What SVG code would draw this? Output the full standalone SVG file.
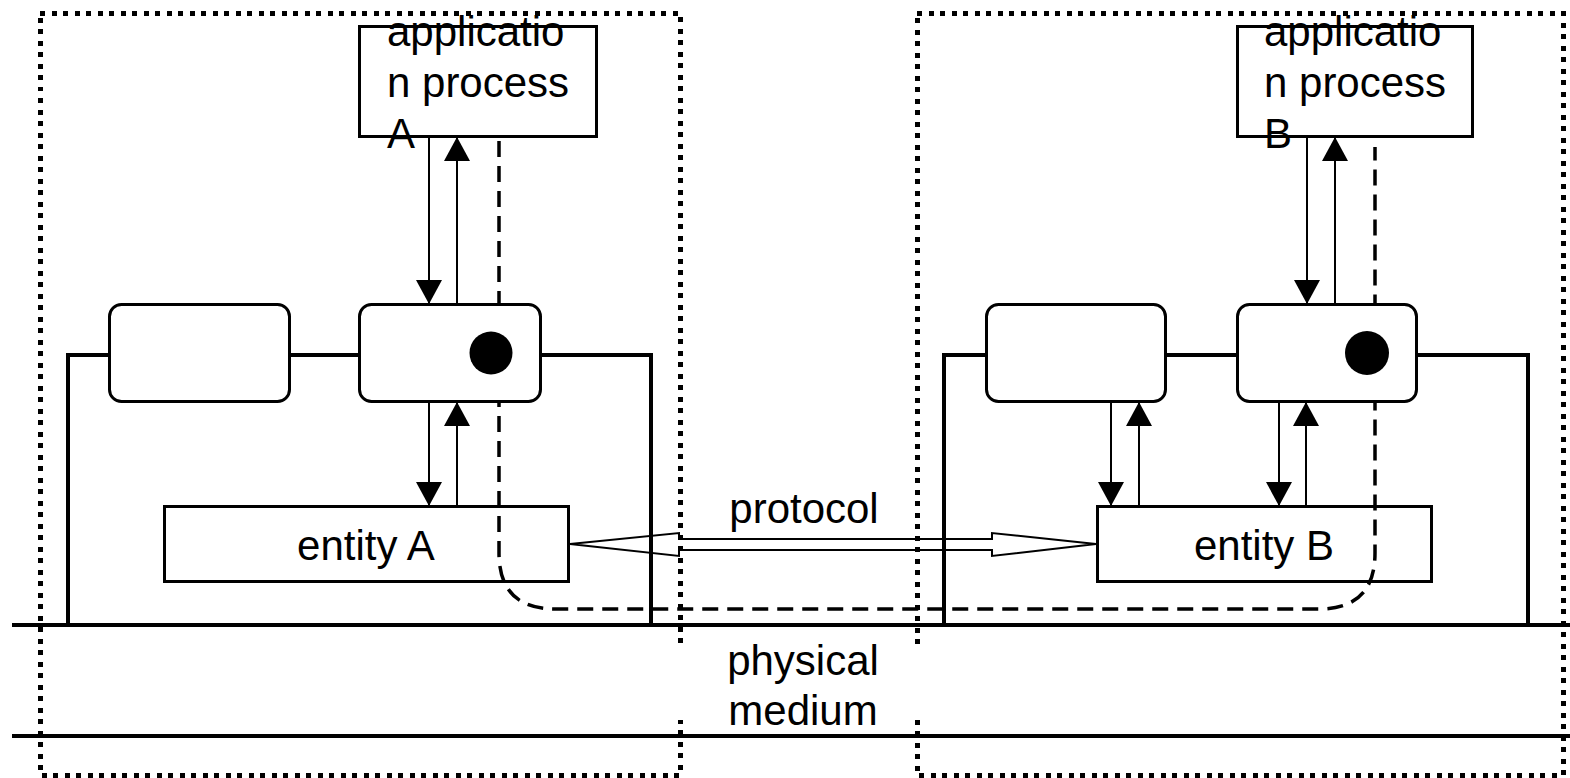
<svg xmlns="http://www.w3.org/2000/svg" width="1570" height="778" viewBox="0 0 1570 778">
<style>
  text { font-family: "Liberation Sans", Arial, sans-serif; font-size: 42px; fill: #000; }
  .box { fill: #fff; stroke: #000; stroke-width: 3; }
  .layer { fill: none; stroke: #000; stroke-width: 4; shape-rendering: crispEdges; }
  .thin { fill: none; stroke: #000; stroke-width: 2; }
  .dotted { fill: none; stroke: #000; stroke-width: 5; stroke-dasharray: 5 6.5; shape-rendering: crispEdges; }
  .dashed { fill: none; stroke: #000; stroke-width: 3.5; stroke-dasharray: 16 9; }
  .phys { stroke: #000; stroke-width: 4; shape-rendering: crispEdges; }
</style>
<defs>
  <marker id="ah" markerUnits="userSpaceOnUse" markerWidth="26" markerHeight="26" refX="24" refY="13" orient="auto" viewBox="0 0 26 26">
    <path d="M0,0 L24,13 L0,26 z" fill="#000"/>
  </marker>
</defs>

<g id="physical-medium">
  <line class="phys" x1="12" y1="625" x2="1570" y2="625"/>
</g>

<g id="layer-A">
  <path class="layer" d="M68,625 V355 H109 M290,355 H359 M541,355 H651 V625"/>
</g>
<g id="layer-B">
  <path class="layer" d="M944,625 V355 H986 M1166,355 H1237 M1417,355 H1528 V625"/>
</g>

<g id="entity-A">
  <rect class="box" x="164.5" y="506.5" width="404" height="75"/>
  <text x="366" y="560" text-anchor="middle">entity A</text>
</g>
<g id="entity-B">
  <rect class="box" x="1097.5" y="506.5" width="334" height="75"/>
  <text x="1264" y="560" text-anchor="middle">entity B</text>
</g>

<g id="connectors">
  <path class="dashed" d="M499,141 V553 Q499,609 555,609 H1319 Q1375,609 1375,553 V147"/>
  <line class="thin" x1="429" y1="137" x2="429" y2="304" marker-end="url(#ah)"/>
  <line class="thin" x1="457" y1="304" x2="457" y2="137" marker-end="url(#ah)"/>
  <line class="thin" x1="429" y1="402" x2="429" y2="506" marker-end="url(#ah)"/>
  <line class="thin" x1="457" y1="506" x2="457" y2="402" marker-end="url(#ah)"/>
  <line class="thin" x1="1307" y1="137" x2="1307" y2="304" marker-end="url(#ah)"/>
  <line class="thin" x1="1335" y1="304" x2="1335" y2="137" marker-end="url(#ah)"/>
  <line class="thin" x1="1279" y1="402" x2="1279" y2="506" marker-end="url(#ah)"/>
  <line class="thin" x1="1306" y1="506" x2="1306" y2="402" marker-end="url(#ah)"/>
  <line class="thin" x1="1111" y1="402" x2="1111" y2="506" marker-end="url(#ah)"/>
  <line class="thin" x1="1139" y1="506" x2="1139" y2="402" marker-end="url(#ah)"/>
  <polygon class="thin" stroke-width="1.8" points="570,544 679,533 679,539 992,539 992,533 1096,544 992,556 992,550 679,550 679,556"/>
</g>

<g id="app-A">
  <rect class="box" x="359.5" y="26.5" width="237" height="110"/>
  <text x="387" y="46">applicatio</text>
  <text x="387" y="97">n process</text>
  <text x="387" y="148">A</text>
</g>
<g id="app-B">
  <rect class="box" x="1237.5" y="26.5" width="235" height="110"/>
  <text x="1264" y="46">applicatio</text>
  <text x="1264" y="97">n process</text>
  <text x="1264" y="148">B</text>
</g>

<g id="box-A1">
  <rect class="box" x="109.5" y="304.5" width="180" height="97" rx="12"/>
</g>
<g id="box-A2">
  <rect class="box" x="359.5" y="304.5" width="181" height="97" rx="12"/>
  <circle cx="491" cy="353" r="21.5" fill="#000"/>
</g>
<g id="box-B1">
  <rect class="box" x="986.5" y="304.5" width="179" height="97" rx="12"/>
</g>
<g id="box-B2">
  <rect class="box" x="1237.5" y="304.5" width="179" height="97" rx="12"/>
  <circle cx="1367" cy="353" r="22" fill="#000"/>
</g>

<g id="protocol-label">
  <text x="804" y="523" text-anchor="middle">protocol</text>
</g>

<g id="system-A">
  <rect class="dotted" x="40" y="13" width="640" height="762"/>
</g>
<g id="system-B">
  <rect class="dotted" x="917" y="13" width="646" height="762"/>
</g>

<g id="medium-label">
  <rect x="676" y="649" width="245" height="71" fill="#fff"/>
  <text x="803" y="675" text-anchor="middle">physical</text>
  <text x="803" y="725" text-anchor="middle">medium</text>
</g>
<g id="physical-medium-bottom">
  <line class="phys" x1="12" y1="736" x2="1570" y2="736"/>
</g>
</svg>
